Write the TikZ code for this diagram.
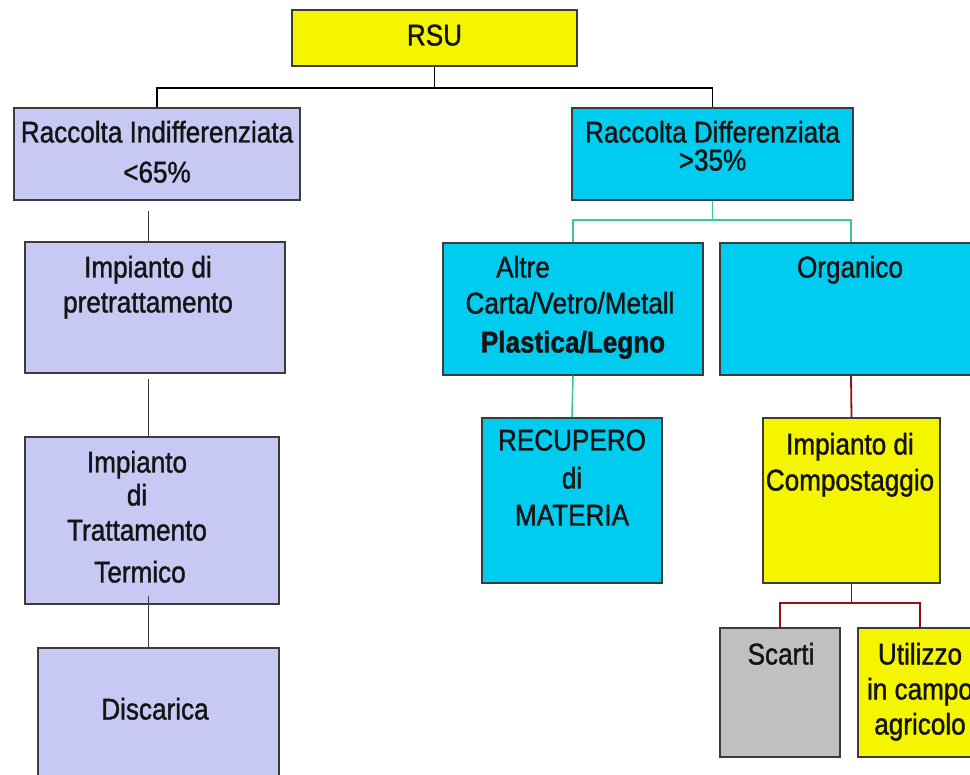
\documentclass[tikz,border=0pt]{standalone}
\usepackage{fontspec}
\setmainfont{Liberation Sans}[FakeStretch=0.87,FakeBold=1.2]
\definecolor{lav}{RGB}{200,200,245}
\definecolor{cyn}{RGB}{0,204,240}
\definecolor{ylw}{RGB}{245,245,0}
\definecolor{gry}{RGB}{192,192,192}
\definecolor{bord}{RGB}{60,60,60}
\definecolor{tealc}{RGB}{51,204,153}
\definecolor{redc}{RGB}{150,15,20}
\definecolor{txtc}{RGB}{20,20,20}
\begin{document}
\begin{tikzpicture}[x=1pt,y=-1pt,
  box/.style={draw=bord, line width=1.3pt, inner sep=0pt},
  t/.style={font=\fontsize{30}{36}\selectfont, text=txtc, inner sep=0pt, text height=21pt, text depth=6pt},
  kline/.style={draw=black, line width=1.8pt},
  gline/.style={draw=bord, line width=1pt},
  tline/.style={draw=tealc, line width=1.6pt},
  rline/.style={draw=redc, line width=1.8pt}]
\useasboundingbox (0,0) rectangle (970,775);
\fill[white] (0,0) rectangle (970,775);
% boxes
\node[box, fill=ylw, minimum width=285pt, minimum height=56pt] (rsu) at (434.5,38) {};
\node[box, fill=lav, minimum width=286pt, minimum height=92pt] (ri) at (157,154) {};
\node[box, fill=cyn, minimum width=281pt, minimum height=92pt] (rd) at (712.5,154) {};
\node[box, fill=lav, minimum width=260pt, minimum height=131pt] (pre) at (155,307.5) {};
\node[box, fill=lav, minimum width=254pt, minimum height=167pt] (term) at (152,520.5) {};
\node[box, fill=lav, minimum width=241pt, minimum height=132pt] (disc) at (158.5,714) {};
\node[box, fill=cyn, minimum width=260pt, minimum height=132pt] (altre) at (573,309) {};
\node[box, fill=cyn, minimum width=262pt, minimum height=132pt] (org) at (851,309) {};
\node[box, fill=cyn, minimum width=180pt, minimum height=165pt] (rec) at (572,500.5) {};
\node[box, fill=ylw, minimum width=177pt, minimum height=165pt] (comp) at (851.5,500.5) {};
\node[box, fill=gry, minimum width=120pt, minimum height=129pt] (scarti) at (780,692.5) {};
\node[box, fill=ylw, minimum width=124pt, minimum height=129pt] (util) at (920,692.5) {};
% connectors
\coordinate (tj) at (434.5,88);
\draw[kline] (rsu.south) -- (tj);
\draw[kline] (ri.north) |- (tj) -| (rd.north);
\coordinate (dj) at (712.5,220);
\draw[tline] (rd.south) -- (dj);
\draw[tline] (altre.north) |- (dj) -| (org.north);
\draw[tline] (altre.south) -- (rec.north);
\draw[rline] (org.south) -- (comp.north);
\coordinate (cj) at (851.5,603);
\draw[rline] (comp.south) -- (cj);
\draw[rline] (scarti.north) |- (cj) -| (util.north);
\draw[gline, shorten <=10pt] ([xshift=-9pt]ri.south) -- ([xshift=-7pt]pre.north);
\draw[gline, shorten <=5pt] ([xshift=-7pt]pre.south) -- ([xshift=-4pt]term.north);
\draw[gline] ([xshift=-4pt]term.south) ++(0,-9) -- ([xshift=-10.5pt]disc.north);
% texts
\node[t] (t1) at (434.5,38) {RSU};
\node[t] (t2) at (157,135) {Raccolta Indifferenziata};
\node[t] (t3) at (157,175) {<65\%};
\node[t] (t4) at (712.5,135) {Raccolta Differenziata};
\node[t] (t5) at (712.5,163) {>35\%};
\node[t] (t6) at (148,270) {Impianto di};
\node[t] (t7) at (148,305) {pretrattamento};
\node[t] (t8) at (137,465) {Impianto};
\node[t] (t9) at (137,498) {di};
\node[t] (t10) at (137,533) {Trattamento};
\node[t] (t11) at (140,575) {Termico};
\node[t] (t12) at (155,712) {Discarica};
\node[t] (t13) at (523,270) {Altre};
\node[t] (t14) at (570,306) {Carta/Vetro/Metall};
\node[t, font=\fontsize{30}{36}\selectfont\bfseries] (t15) at (573,345) {Plastica/Legno};
\node[t] (t16) at (850,270) {Organico};
\node[t] (t17) at (572,443) {RECUPERO};
\node[t] (t18) at (572,481) {di};
\node[t] (t19) at (572,518) {MATERIA};
\node[t] (t20) at (850,447) {Impianto di};
\node[t] (t21) at (850,483) {Compostaggio};
\node[t] (t22) at (781,657) {Scarti};
\node[t] (t23) at (920,657) {Utilizzo};
\node[t] (t24) at (920,692) {in campo};
\node[t] (t25) at (920,727) {agricolo};
\end{tikzpicture}
\end{document}
